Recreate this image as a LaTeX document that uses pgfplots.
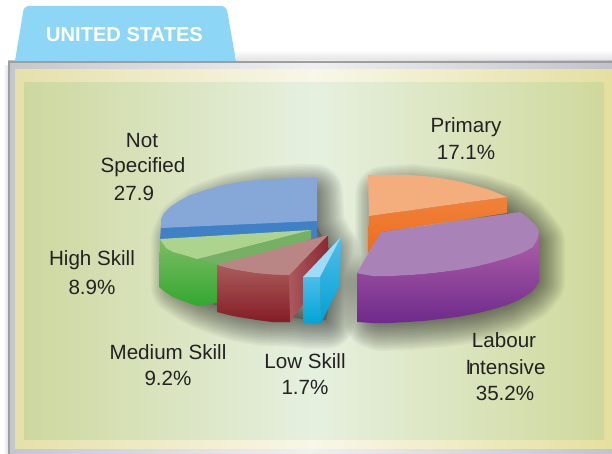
\documentclass[border=0pt]{standalone}
\usepackage{pgfplots}
\pgfplotsset{compat=1.18}
\usepackage{pgfplotstable}
\usepackage{fontspec}
\setmainfont{Liberation Sans}
\definecolor{txt}{HTML}{222222}
\pgfplotstableread{
x y
186 226
205 212
232 202
268 195
300 193
314 193
316 225
326 245
330 250
333 285
326 320
308 320
296 318
262 317
240 313
224 308
205 301
192 294
180 286
180 240
}\leftoutline
\pgfplotstableread{
x y
384 195
412 193
446 197
480 203
506 212
522 224
530 234
536 242
536 282
528 292
508 304
478 313
444 318
410 321
380 322
374 320
374 282
384 260
}\rightoutline
\newcommand{\lab}[3]{\node[text=txt,inner sep=0pt,font=\fontsize{20.6}{24}\selectfont] at (axis cs:#1,#2) {#3};}
\begin{document}
\begin{tikzpicture}
\begin{axis}[scale only axis,width=612pt,height=454pt,xmin=0,xmax=612,ymin=0,ymax=454,y dir=reverse,axis lines=none,clip=true]
% page
\addplot[draw=none,fill=white] coordinates {(0,0)(612,0)(612,454)(0,454)} -- cycle;
\addplot[draw=none,top color=white,bottom color=black!12] coordinates {(236,50)(612,50)(612,61)(236,61)} -- cycle;
\addplot[draw=none,left color=white,right color=black!12] coordinates {(3,66)(8,66)(8,454)(3,454)} -- cycle;
% frame
\addplot[draw=none,left color={rgb,255:red,195;green,199;blue,204},right color={rgb,255:red,192;green,196;blue,202},middle color={rgb,255:red,240;green,240;blue,242}] coordinates {(8,61)(612,61)(612,454)(8,454)} -- cycle;
\addplot[draw=none,fill=black!38] coordinates {(8,61)(612,61)(612,63.5)(8,63.5)} -- cycle;
\addplot[draw=none,fill=black!38] coordinates {(8,61)(9.5,61)(9.5,454)(8,454)} -- cycle;
% yellow band
\addplot[draw=none,left color={rgb,255:red,230;green,224;blue,170},right color={rgb,255:red,229;green,223;blue,160},middle color={rgb,255:red,248;green,247;blue,232}] coordinates {(15,70)(612,70)(612,448)(15,448)} -- cycle;
% green panel
\addplot[draw=none,left color={rgb,255:red,205;green,216;blue,159},right color={rgb,255:red,207;green,217;blue,156},middle color={rgb,255:red,230;green,240;blue,224}] coordinates {(24,83)(604,83)(604,439)(24,439)} -- cycle;
% shadows
\pgfplotsinvokeforeach{58,55,52,49,46,43,40,37,34,31,28,25,22,19,16,13,10,7,4,1}{
\addplot[draw=black,draw opacity=.032,line width=#1pt,line join=round,fill=none] table[x=x,y=y] {\leftoutline} -- cycle;
\addplot[draw=black,draw opacity=.032,line width=#1pt,line join=round,fill=none] table[x=x,y=y] {\rightoutline} -- cycle;
}
\addplot[draw=none,fill=black,fill opacity=.2] table[x=x,y=y] {\leftoutline} -- cycle;
\addplot[draw=none,fill=black,fill opacity=.2] table[x=x,y=y] {\rightoutline} -- cycle;
% Not Specified 27.9
\addplot[draw=none,fill={rgb,255:red,64;green,128;blue,198}] coordinates {(161,226)(317,219)(317,238)(160,240)} -- cycle;
\addplot[draw=none,fill={rgb,255:red,134;green,168;blue,217}] coordinates {(317,178)(293,178)(275,179)(257,180)(240,182)(223,185)(206,190)(190,195)(179,201)(170,207)(164,213)(161,219)(161,228)(317,221)} -- cycle;
% High Skill 8.9
\addplot[draw=none,top color={rgb,255:red,125;green,187;blue,100},bottom color={rgb,255:red,50;green,168;blue,48}] coordinates {(160,240)(168,246)(182,254)(197,259)(225,259)(225,303)(217,303)(198,306)(186,302)(173,297)(165,292)(159,287)} -- cycle;
\addplot[draw=none,fill={rgb,255:red,118;green,176;blue,100}] coordinates {(197,259)(311,230)(311,239)(225,266)} -- cycle;
\addplot[draw=none,fill={rgb,255:red,172;green,212;blue,143}] coordinates {(160,239)(311,230)(197,259)(184,255)(173,252)(166,248)} -- cycle;
% Medium Skill 9.2
\addplot[draw=none,left color={rgb,255:red,170;green,90;blue,95},right color={rgb,255:red,140;green,40;blue,50}] coordinates {(289,275)(328,235)(328,270)(290,322)} -- cycle;
\addplot[draw=none,top color={rgb,255:red,170;green,92;blue,92},bottom color={rgb,255:red,132;green,28;blue,36}] coordinates {(217,265)(233,269)(257,273)(289,275)(290,322)(272,322)(257,320)(233,316)(217,312)} -- cycle;
\addplot[draw=none,fill={rgb,255:red,186;green,133;blue,133}] coordinates {(217,265)(328,235)(289,275)(272,274.5)(257,273)(244,271)(233,269)} -- cycle;
% Low Skill 1.7
\addplot[draw=none,top color={rgb,255:red,80;green,190;blue,235},bottom color={rgb,255:red,0;green,160;blue,212}] coordinates {(320,277)(341,237)(340,285)(321,323)} -- cycle;
\addplot[draw=none,top color={rgb,255:red,76;green,189;blue,234},bottom color={rgb,255:red,0;green,165;blue,214}] coordinates {(303,277)(320,277)(321,323)(303,323)} -- cycle;
\addplot[draw=none,fill={rgb,255:red,156;green,220;blue,248}] coordinates {(303,277)(341,237)(320,277)} -- cycle;
% Primary 17.1
\addplot[draw=none,top color={rgb,255:red,240;green,130;blue,60},bottom color={rgb,255:red,238;green,108;blue,26}] coordinates {(369,216)(507,197)(507,213)(381,232)(368,253)} -- cycle;
\addplot[draw=none,fill={rgb,255:red,244;green,174;blue,125}] coordinates {(368,175)(390,175)(407,175)(424,176)(440,178)(457,181)(473,185)(490,190)(507,197)(369,216)} -- cycle;
% Labour Intensive 35.2
\addplot[draw=none,top color={rgb,255:red,176;green,96;blue,168},bottom color={rgb,255:red,110;green,42;blue,140}] coordinates {(357,273)(373,276)(407,275)(440,272)(473,267)(507,258)(522,253)(533,247)(537,240)(539,232)(539,282)(535,288)(530,293)(519,300)(507,305)(490,310)(473,314)(457,317)(440,319)(423,321)(407,322)(390,323)(373,323)(357,322)} -- cycle;
\addplot[draw=none,fill={rgb,255:red,169;green,131;blue,184}] coordinates {(357,273)(381,232)(520,212)(527,217)(532,222)(537,227)(539,232)(537,240)(533,247)(522,253)(507,258)(490,263)(473,267)(457,270)(440,272)(423,274)(407,275)(390,276)(373,276)} -- cycle;
% Tab
\addplot[draw=none,fill={rgb,255:red,141;green,214;blue,246}] coordinates {(15,61)(23.5,10)(25,7.5)(28,6)(222,6)(225,7.5)(227,10)(236,61)} -- cycle;
\node[text=white,inner sep=0pt,font=\fontsize{20.1}{24}\selectfont\bfseries] at (axis cs:124.5,35) {UNITED STATES};
% Labels
\lab{142}{141}{Not}
\lab{143}{167}{Specified}
\lab{134}{193}{27.9}
\lab{466}{127}{Primary}
\lab{466}{152}{17.1\%}
\lab{92}{260}{High Skill}
\lab{92}{287}{8.9\%}
\lab{168}{352}{Medium Skill}
\lab{168}{378}{9.2\%}
\lab{305}{361}{Low Skill}
\lab{305}{387}{1.7\%}
\lab{504}{340}{Labour}
\lab{505.5}{367}{I\kern-2.5pt ntensive}
\lab{505}{393}{35.2\%}
\end{axis}
\end{tikzpicture}
\end{document}
